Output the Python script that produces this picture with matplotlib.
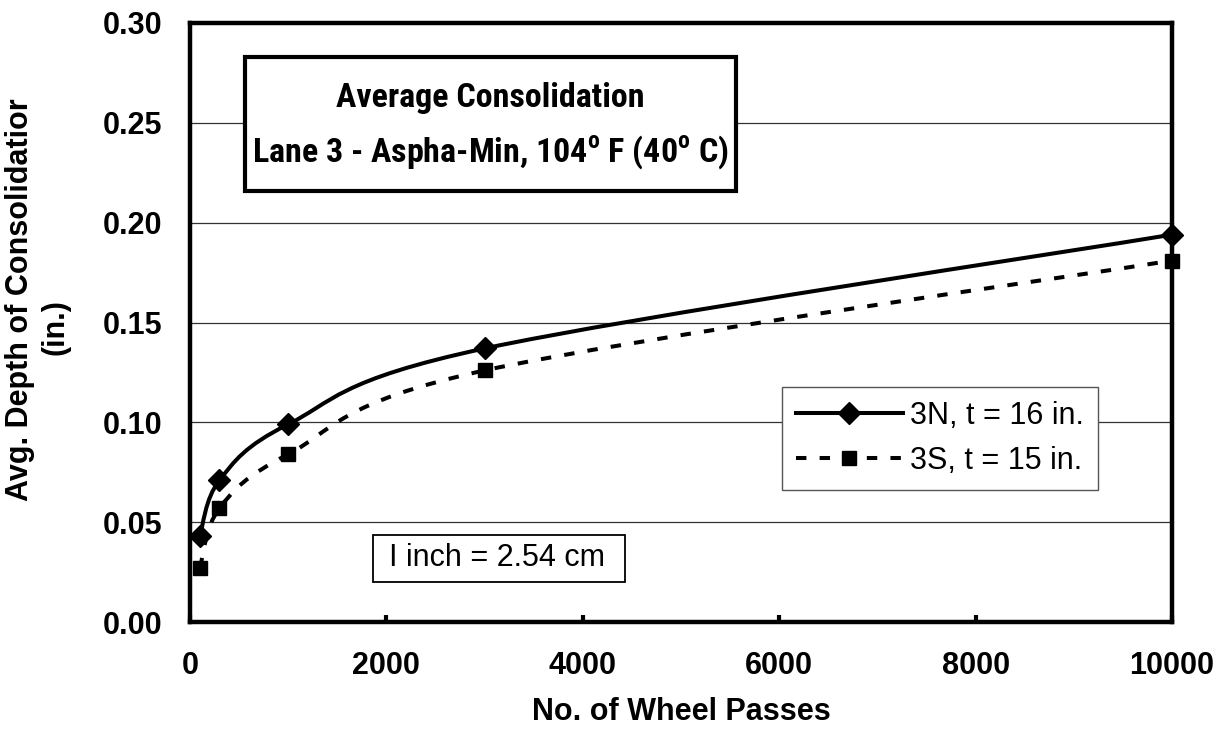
import numpy as np
import matplotlib
matplotlib.use("Agg")
import matplotlib.pyplot as plt
from matplotlib.path import Path
from matplotlib.patches import PathPatch
from matplotlib.lines import Line2D
from matplotlib import font_manager

# ---- data ----
passes = [100, 300, 1000, 3000, 10000]
depth_3n = [0.043, 0.071, 0.099, 0.137, 0.194]
depth_3s = [0.027, 0.057, 0.084, 0.126, 0.181]
series_labels = ["3N, t = 16 in.", "3S, t = 15 in."]
x_ticks = [0, 2000, 4000, 6000, 8000, 10000]
y_ticks = [0.00, 0.05, 0.10, 0.15, 0.20, 0.25, 0.30]
title_lines = ["Average Consolidation", r"Lane 3 - Aspha-Min, 104$^{\mathregular{o}}$ F (40$^{\mathregular{o}}$ C)"]
x_label = "No. of Wheel Passes"
y_label_lines = ["Avg. Depth of Consolidatior", "(in.)"]
note_text = "I inch = 2.54 cm"

plt.rcParams["font.family"] = ["Liberation Sans", "DejaVu Sans"]
plt.rcParams["lines.scale_dashes"] = False

names = {f.name for f in font_manager.fontManager.ttflist}
narrow = None
for cand in ["Liberation Sans Narrow", "Roboto Condensed", "Open Sans Condensed"]:
    if cand in names:
        narrow = cand
        break
title_family = narrow if narrow else "Liberation Sans"
plt.rcParams["mathtext.fontset"] = "custom"
plt.rcParams["mathtext.rm"] = title_family
plt.rcParams["mathtext.bf"] = title_family + ":bold"

fig = plt.figure(figsize=(12.30, 7.29), dpi=100)
ax = fig.add_axes([190 / 1230, 1 - 622 / 729, (1172 - 190) / 1230, (622 - 23) / 729])

ax.set_xlim(0, 10000)
ax.set_ylim(0, 0.30)
ax.set_xticks(x_ticks)
ax.set_yticks(y_ticks)
ax.set_xticklabels([f"{v}" for v in x_ticks], fontsize=22, fontweight="bold")
ax.set_yticklabels([f"{v:.2f}" for v in y_ticks], fontsize=22, fontweight="bold")
ax.tick_params(axis="x", direction="in", length=5, width=3, pad=21)
ax.tick_params(axis="y", length=0, pad=20)
for s in ax.spines.values():
    s.set_linewidth(3.2)
    s.set_color("black")
ax.grid(axis="y", color="#333333", linewidth=0.9)
ax.set_axisbelow(True)


def smooth_path(xs, ys):
    """Catmull-Rom style cubic Bezier path through the points (computed in pixel proportions)."""
    to_ax = ax.transData + ax.transAxes.inverted()
    pts = to_ax.transform(np.column_stack([xs, ys]))
    sx, sy = 982.0, 599.0
    p = pts * [sx, sy]
    n = len(p)
    verts = [p[0]]
    codes = [Path.MOVETO]
    for i in range(n - 1):
        p0 = p[i - 1] if i > 0 else p[i]
        p1 = p[i]
        p2 = p[i + 1]
        p3 = p[i + 2] if i + 2 < n else p[i + 1]
        c1 = p1 + (p2 - p0) / 6.0
        c2 = p2 - (p3 - p1) / 6.0
        verts += [c1, c2, p2]
        codes += [Path.CURVE4] * 3
    verts = np.array(verts) / [sx, sy]
    data = (ax.transAxes + ax.transData.inverted()).transform(verts)
    return Path(data, codes)


solid_lw = 2.9
dash_style = (0, (7.5, 9.5))
dia_size = 11
sq_size = 9.5

ax.add_patch(PathPatch(smooth_path(passes, depth_3n), fill=False, edgecolor="black",
                       linewidth=solid_lw, capstyle="butt", zorder=3))
ax.add_patch(PathPatch(smooth_path(passes, depth_3s), fill=False, edgecolor="black",
                       linewidth=solid_lw, linestyle=dash_style, capstyle="butt", zorder=3))
ax.plot(passes, depth_3n, linestyle="none", marker="D", markersize=dia_size,
        color="black", zorder=4, clip_on=False)
ax.plot(passes, depth_3s, linestyle="none", marker="s", markersize=sq_size,
        color="black", zorder=4, clip_on=False)

handles = [
    Line2D([], [], color="black", linewidth=solid_lw, marker="D", markersize=dia_size),
    Line2D([], [], color="black", linewidth=solid_lw, linestyle=dash_style, marker="s", markersize=sq_size),
]
leg = ax.legend(handles, series_labels, loc="upper left",
                bbox_to_anchor=((782 - 190) / 982, (622 - 387) / 599),
                prop={"family": "Liberation Sans", "size": 22}, frameon=True, fancybox=False,
                edgecolor="#555555", framealpha=1, handlelength=3.5, handletextpad=0.25,
                borderpad=0.45, labelspacing=0.5, borderaxespad=0, numpoints=1)
leg.get_frame().set_linewidth(1.0)

# title box
tsize = 24.5 if narrow else 22
tb_kw = dict(fontweight="bold", ha="center", va="center", family=title_family)
t1 = fig.text(490 / 1230, 1 - 98 / 729, title_lines[0], fontsize=tsize, **tb_kw)
t2 = fig.text(490 / 1230, 1 - 152 / 729, title_lines[1], fontsize=tsize, **tb_kw)
box = plt.Rectangle((245 / 1230, 1 - 191 / 729), (736 - 245) / 1230, (191 - 57) / 729,
                    transform=fig.transFigure, fill=True, facecolor="white",
                    edgecolor="black", linewidth=3.0, zorder=5)
fig.add_artist(box)
t1.set_zorder(6)
t2.set_zorder(6)

# unit note box
note_box = plt.Rectangle((373 / 1230, 1 - 582 / 729), (625 - 373) / 1230, (582 - 535) / 729,
                         transform=fig.transFigure, facecolor="white", edgecolor="black",
                         linewidth=1.3, zorder=5)
fig.add_artist(note_box)
fig.text(497 / 1230, 1 - 558 / 729, note_text, fontsize=22, ha="center", va="center", zorder=6)

# axis labels
fig.text(681 / 1230, 1 - 712 / 729, x_label, fontsize=22, fontweight="bold", ha="center", va="center")
fig.text(20 / 1230, 1 - 300 / 729, y_label_lines[0], fontsize=22, fontweight="bold",
         rotation=90, ha="center", va="center")
fig.text(56 / 1230, 1 - 327 / 729, y_label_lines[1], fontsize=22, fontweight="bold",
         rotation=90, ha="center", va="center")

fig.savefig("out.png", dpi=100, facecolor="white")
